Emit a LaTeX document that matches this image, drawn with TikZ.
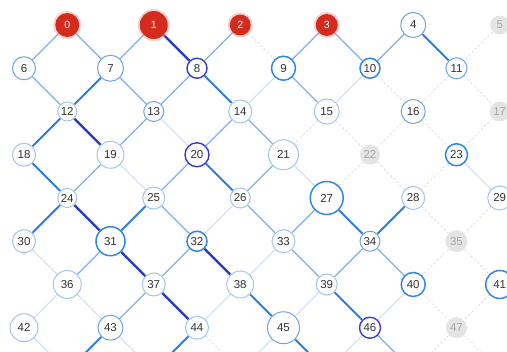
\documentclass[tikz,border=0pt]{standalone}
\usepackage{fontspec}
\setmainfont{Liberation Sans}
\usetikzlibrary{backgrounds}
\definecolor{redN}{HTML}{D42B1F}
\definecolor{redglow}{HTML}{F09A92}
\definecolor{bluelt}{HTML}{A6C4EE}
\definecolor{bluemd}{HTML}{6FA4E8}
\definecolor{bluebr}{HTML}{3286E6}
\definecolor{bluedk}{HTML}{3B3BD4}
\definecolor{edgelt}{HTML}{84AEE9}
\definecolor{edgevl}{HTML}{C8DAF4}
\definecolor{edgemd}{HTML}{2C7CE2}
\definecolor{edgedk}{HTML}{2336CF}
\definecolor{offgrey}{HTML}{E4E4E4}
\definecolor{dashgrey}{HTML}{DCDCDC}
\definecolor{txt}{HTML}{333333}
\tikzset{
  gvlt/.style={circle,fill=white,draw=bluelt,line width=1pt,inner sep=0pt,
    text=txt,font=\fontsize{11.5}{12}\selectfont},
  gvmid/.style={gvlt,draw=bluemd},
  gvbr/.style={gvlt,draw=bluebr,line width=1.5pt},
  gvdk/.style={gvlt,draw=bluedk,line width=1.4pt},
  gvoff/.style={gvlt,draw=none,fill=offgrey,text=black!35},
  gvred/.style={circle,fill=redN,text=white,inner sep=0pt,
    font=\fontsize{10.5}{12}\selectfont,
    preaction={draw=redglow,line width=4pt,opacity=0.45}},
  gedk/.style={edgedk,line width=2.4pt},
  gemd/.style={edgemd,line width=1.9pt},
  gelt/.style={edgelt,line width=1.3pt},
  gevl/.style={edgevl,line width=1pt},
  gedash/.style={dashgrey,line width=0.7pt,dash pattern=on 2.5pt off 2pt},
}
\begin{document}
\begin{tikzpicture}[x=43.25pt,y=-43.25pt]
  \useasboundingbox (-0.555,-0.578) rectangle (11.168,7.561);
  % row 0
  \node[gvred,minimum size=24pt] (n0) at (1,0) {0};
  \node[gvred,minimum size=28pt] (n1) at (3,0) {1};
  \node[gvred,minimum size=21pt] (n2) at (5,0) {2};
  \node[gvred,minimum size=22pt] (n3) at (7,0) {3};
  \node[gvmid,minimum size=25pt] (n4) at (9,0) {4};
  \node[gvoff,minimum size=19pt] (n5) at (11,0) {5};
  % row 1
  \node[gvmid,minimum size=23pt] (n6) at (0,1) {6};
  \node[gvmid,minimum size=26pt] (n7) at (2,1) {7};
  \node[gvdk,minimum size=20pt] (n8) at (4,1) {8};
  \node[gvbr,minimum size=24pt] (n9) at (6,1) {9};
  \node[gvbr,minimum size=20pt] (n10) at (8,1) {10};
  \node[gvmid,minimum size=21pt] (n11) at (10,1) {11};
  % row 2
  \node[gvlt,minimum size=19pt] (n12) at (1,2) {12};
  \node[gvmid,minimum size=20pt] (n13) at (3,2) {13};
  \node[gvlt,minimum size=23pt] (n14) at (5,2) {14};
  \node[gvlt,minimum size=25pt] (n15) at (7,2) {15};
  \node[gvmid,minimum size=24pt] (n16) at (9,2) {16};
  \node[gvoff,minimum size=20pt] (n17) at (11,2) {17};
  % row 3
  \node[gvlt,minimum size=23pt] (n18) at (0,3) {18};
  \node[gvlt,minimum size=27pt] (n19) at (2,3) {19};
  \node[gvdk,minimum size=24pt] (n20) at (4,3) {20};
  \node[gvlt,minimum size=30pt] (n21) at (6,3) {21};
  \node[gvoff,minimum size=20pt] (n22) at (8,3) {22};
  \node[gvbr,minimum size=22pt] (n23) at (10,3) {23};
  % row 4
  \node[gvlt,minimum size=19pt] (n24) at (1,4) {24};
  \node[gvlt,minimum size=22pt] (n25) at (3,4) {25};
  \node[gvlt,minimum size=20pt] (n26) at (5,4) {26};
  \node[gvbr,minimum size=33pt] (n27) at (7,4) {27};
  \node[gvlt,minimum size=23pt] (n28) at (9,4) {28};
  \node[gvlt,minimum size=24pt] (n29) at (11,4) {29};
  % row 5
  \node[gvlt,minimum size=23pt] (n30) at (0,5) {30};
  \node[gvbr,minimum size=29pt] (n31) at (2,5) {31};
  \node[gvbr,minimum size=20pt] (n32) at (4,5) {32};
  \node[gvlt,minimum size=23pt] (n33) at (6,5) {33};
  \node[gvmid,minimum size=20pt] (n34) at (8,5) {34};
  \node[gvoff,minimum size=22pt] (n35) at (10,5) {35};
  % row 6
  \node[gvlt,minimum size=28pt] (n36) at (1,6) {36};
  \node[gvlt,minimum size=23pt] (n37) at (3,6) {37};
  \node[gvlt,minimum size=27pt] (n38) at (5,6) {38};
  \node[gvlt,minimum size=21pt] (n39) at (7,6) {39};
  \node[gvbr,minimum size=24pt] (n40) at (9,6) {40};
  \node[gvbr,minimum size=28pt] (n41) at (11,6) {41};
  % row 7
  \node[gvlt,minimum size=28pt] (n42) at (0,7) {42};
  \node[gvmid,minimum size=25pt] (n43) at (2,7) {43};
  \node[gvlt,minimum size=23pt] (n44) at (4,7) {44};
  \node[gvmid,minimum size=32pt] (n45) at (6,7) {45};
  \node[gvdk,minimum size=21pt] (n46) at (8,7) {46};
  \node[gvoff,minimum size=21pt] (n47) at (10,7) {47};
  % ends below the page
  \coordinate (b1) at (1,8);
  \coordinate (b3) at (3,8);
  \coordinate (b5) at (5,8);
  \coordinate (b7) at (7,8);
  \coordinate (b9) at (9,8);
  \coordinate (b11) at (11,8);
  \begin{scope}[on background layer]
    \draw[gedk] (n1)--(n8) (n12)--(n19) (n24)--(n31) (n31)--(n37)
      (n32)--(n38) (n37)--(n44);
    \draw[gemd] (n4)--(n11) (n7)--(n12) (n8)--(n14) (n12)--(n18)
      (n18)--(n24) (n20)--(n26) (n24)--(n30) (n25)--(n31) (n27)--(n34)
      (n28)--(n34) (n38)--(n45) (n39)--(n46) (n43)--(b1) (n44)--(b3)
      (n45)--(b7);
    \draw[gelt] (n0)--(n6) (n0)--(n7) (n1)--(n7) (n2)--(n8) (n3)--(n9)
      (n3)--(n10) (n4)--(n10) (n6)--(n12) (n7)--(n13) (n8)--(n13)
      (n9)--(n15) (n13)--(n19) (n14)--(n20) (n14)--(n21) (n19)--(n24)
      (n20)--(n25) (n21)--(n26) (n25)--(n32) (n26)--(n33) (n27)--(n33)
      (n31)--(n36) (n32)--(n37) (n33)--(n39) (n34)--(n39) (n34)--(n40)
      (n37)--(n43) (n46)--(b9);
    \draw[gevl] (n9)--(n14) (n10)--(n15) (n13)--(n20) (n19)--(n25)
      (n21)--(n27) (n23)--(n29) (n26)--(n32) (n30)--(n36) (n33)--(n38)
      (n36)--(n42) (n36)--(n43) (n38)--(n44) (n39)--(n45) (n40)--(n46)
      (n42)--(b1) (n43)--(b3) (n45)--(b5) (n46)--(b7);
    \draw[gedash] (n2)--(n9) (n5)--(n11) (n10)--(n16) (n11)--(n16)
      (n11)--(n17) (n15)--(n21) (n15)--(n22) (n16)--(n22) (n16)--(n23)
      (n17)--(n23) (n22)--(n27) (n22)--(n28) (n23)--(n28) (n28)--(n35)
      (n29)--(n35) (n35)--(n40) (n35)--(n41) (n40)--(n47) (n41)--(n47)
      (n44)--(b5) (n47)--(b9) (n47)--(b11);
  \end{scope}
\end{tikzpicture}
\end{document}
